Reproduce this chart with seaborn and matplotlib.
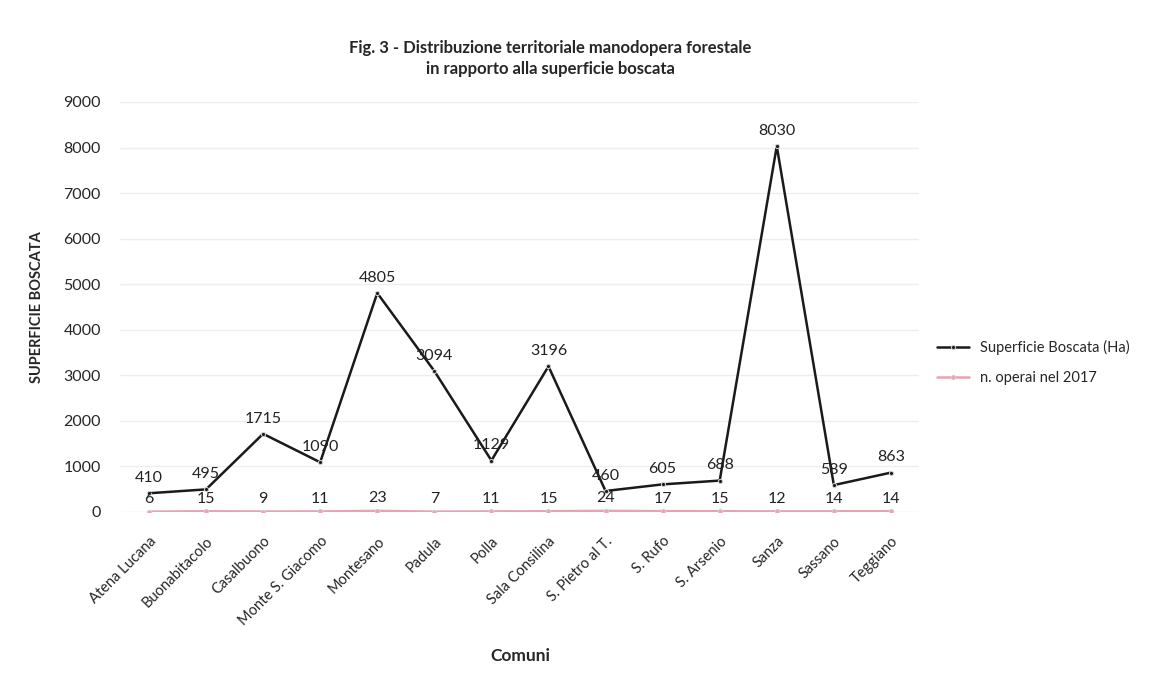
import matplotlib
matplotlib.use("Agg")
import matplotlib.pyplot as plt
import seaborn as sns
import pandas as pd

comuni = ["Atena Lucana", "Buonabitacolo", "Casalbuono", "Monte S. Giacomo",
          "Montesano", "Padula", "Polla", "Sala Consilina", "S. Pietro al T.",
          "S. Rufo", "S. Arsenio", "Sanza", "Sassano", "Teggiano"]
superficie_ha = [410, 495, 1715, 1090, 4805, 3094, 1129, 3196, 460, 605, 688, 8030, 589, 863]
operai_2017 = [6, 15, 9, 11, 23, 7, 11, 15, 24, 17, 15, 12, 14, 14]

df = pd.DataFrame({"Comune": comuni, "pos": range(len(comuni)),
                   "Superficie Boscata (Ha)": superficie_ha,
                   "n. operai nel 2017": operai_2017})
long = df.melt(id_vars=["Comune", "pos"], var_name="serie", value_name="valore")

sns.set_theme(style="white")
plt.rcParams["font.family"] = ["Lato", "DejaVu Sans"]

fig = plt.figure(figsize=(11.58, 6.89), dpi=100)
ax = fig.add_axes([0.104, 0.257, 0.69, 0.595])

palette = {"Superficie Boscata (Ha)": "#1a1a1a", "n. operai nel 2017": "#e8a3b3"}
sns.lineplot(data=long, x="pos", y="valore", hue="serie", palette=palette,
             marker="o", markersize=3, linewidth=1.8, ax=ax,
             markeredgecolor="#d0d0d0", legend=True)

for i, (s, o) in enumerate(zip(superficie_ha, operai_2017)):
    ax.text(i, s + 180, f"{s}", ha="center", va="bottom", fontsize=11.5, color="#222222")
    ax.text(i, o + 120, f"{o}", ha="center", va="bottom", fontsize=11.5, color="#222222")

ax.set_ylim(0, 9000)
ax.set_yticks(range(0, 9001, 1000))
ax.set_xlim(-0.5, len(comuni) - 0.5)
ax.set_xticks(range(len(comuni)))
ax.set_xticklabels(comuni, rotation=45, ha="right", rotation_mode="anchor", fontsize=10.5)
ax.tick_params(axis="y", labelsize=11.5, length=0, pad=14)
ax.tick_params(axis="x", length=0, pad=16)
ax.yaxis.grid(True, color="#eeeeee", linewidth=1)
for sp in ax.spines.values():
    sp.set_visible(False)

ax.set_xlabel("Comuni", fontsize=12.5, fontweight="bold", labelpad=14)
ax.set_ylabel("SUPERFICIE BOSCATA", fontsize=10.5, fontweight="bold", labelpad=14)

fig.text(0.475, 0.915, "Fig. 3 - Distribuzione territoriale manodopera forestale\nin rapporto alla superficie boscata",
         ha="center", va="center", fontsize=12, fontweight="bold", linespacing=1.4)

handles, labels = ax.get_legend_handles_labels()
ax.legend(handles, labels, loc="center left", bbox_to_anchor=(1.005, 0.365),
          frameon=False, fontsize=10.5, handlelength=2.2, labelspacing=1.1)

fig.savefig("out.png", dpi=100, facecolor="white")
